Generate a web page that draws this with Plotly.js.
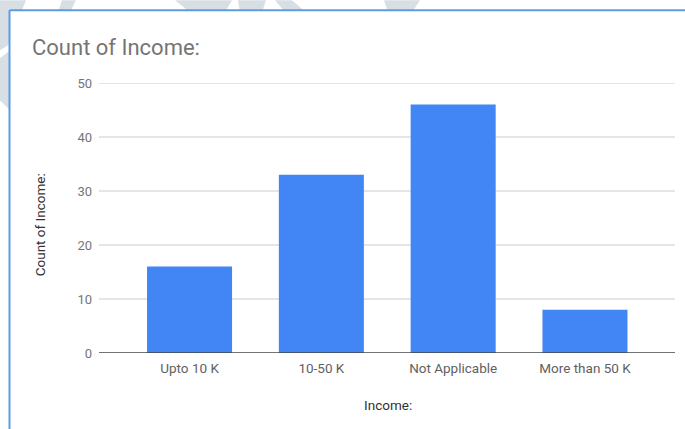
<!DOCTYPE html>
<html>
<head>
<meta charset="utf-8">
<script src="https://cdn.plot.ly/plotly-3.0.1.min.js"></script>
<style>
html,body{margin:0;padding:0;background:#ffffff;overflow:hidden;}
#chart{width:685px;height:429px;}
</style>
</head>
<body>
<div id="chart"></div>
<script>
const categories = ["Upto 10 K", "10-50 K", "Not Applicable", "More than 50 K"];
const counts = [16, 33, 46, 8];
const yTicks = [0, 10, 20, 30, 40, 50];

const L = 99, T = 82.7, W = 576, H = 270;
function px(x){ return (x - L) / W; }
function py(y){ return (T + H - y) / H; }

const trace = {
  type: "bar",
  x: categories,
  y: counts,
  marker: {color: "#4285f4"},
  width: 0.645,
  hoverinfo: "x+y"
};

const blob = "#d8dfe4";
function poly(pts){
  return {type:"path", xref:"paper", yref:"paper", layer:"below", fillcolor:blob, line:{width:0},
    path: "M " + pts.map(p => px(p[0]) + " " + py(p[1])).join(" L ") + " Z"};
}
const blobs = [
  poly([[0,0],[26,0],[18,20],[8,45],[0,50]]),
  poly([[62,0],[76,0],[70,12],[58,12]]),
  poly([[175,0],[232,0],[225,12],[190,12]]),
  poly([[238,0],[266,0],[262,12],[240,12]]),
  poly([[275,0],[292,0],[306,12],[285,12]]),
  poly([[384,0],[420,0],[412,12],[388,12]]),
  poly([[0,58],[10,50],[10,110],[0,100]])
];
const card = [
  {type:"rect", xref:"paper", yref:"paper", layer:"below",
   x0:px(10), x1:px(700), y0:py(10.5), y1:py(440), fillcolor:"#ffffff", line:{width:0}},
  {type:"line", xref:"paper", yref:"paper", layer:"below",
   x0:px(9.5), x1:px(700), y0:py(10), y1:py(10), line:{color:"#5e9ce0", width:2}},
  {type:"line", xref:"paper", yref:"paper", layer:"below",
   x0:px(9.5), x1:px(9.5), y0:py(10), y1:py(440), line:{color:"#5e9ce0", width:2}}
];
const grid = yTicks.filter(v => v !== 0).map(v => ({type:"line", xref:"paper", yref:"y", layer:"below",
  x0:0, x1:1, y0:v, y1:v, line:{color:"#cccccc", width:1}}));
const baseline = [{type:"line", xref:"paper", yref:"y", layer:"above",
  x0:0, x1:1, y0:0, y1:0, line:{color:"#444444", width:1.5}}];

const layout = {
  width: 685, height: 429,
  margin: {l: L, r: 685 - L - W, t: T, b: 429 - T - H, pad: 0},
  paper_bgcolor: "#ffffff",
  plot_bgcolor: "rgba(0,0,0,0)",
  font: {family: "Roboto, Arial, sans-serif", color: "#616161", size: 13},
  showlegend: false,
  xaxis: {
    type: "category",
    range: [-0.687, 3.683],
    showgrid: false,
    showline: false,
    zeroline: false,
    ticks: "",
    tickfont: {size: 13.5, color: "#616161"},
    ticklabelstandoff: 5,
    fixedrange: true
  },
  yaxis: {
    range: [0, 50],
    tickvals: yTicks,
    ticktext: yTicks.map(String),
    showgrid: false,
    zeroline: false,
    showline: false,
    ticks: "",
    ticklabelstandoff: 6,
    tickfont: {size: 13, color: "#757575"},
    fixedrange: true
  },
  shapes: [...blobs, ...card, ...grid, ...baseline],
  annotations: [
    {text: "Count of Income:", xref: "paper", yref: "paper", x: px(30), y: py(47),
     xanchor: "left", yanchor: "middle", showarrow: false,
     font: {size: 22, color: "#757575", family: "Roboto, Arial, sans-serif"}},
    {text: "Count of Income:", xref: "paper", yref: "paper", x: px(40), y: py(225),
     xanchor: "center", yanchor: "middle", textangle: -90, showarrow: false,
     font: {size: 13.5, color: "#333333", family: "Roboto, Arial, sans-serif"}},
    {text: "Income:", xref: "paper", yref: "paper", x: px(388), y: py(405),
     xanchor: "center", yanchor: "middle", showarrow: false,
     font: {size: 13.5, color: "#333333", family: "Roboto, Arial, sans-serif"}}
  ]
};

Plotly.newPlot("chart", [trace], layout, {displayModeBar: false, staticPlot: true});
</script>
</body>
</html>
